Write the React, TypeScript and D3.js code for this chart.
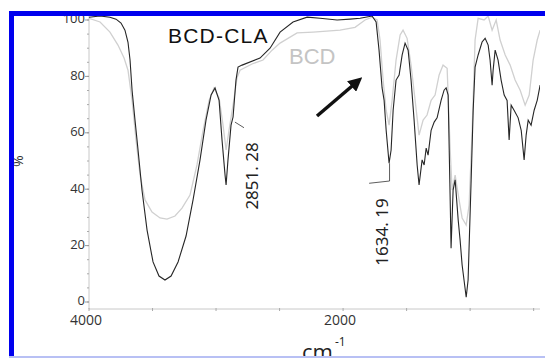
import React from 'react';
import * as d3 from 'd3';

// BCD-CLA spectrum, [wavenumber (cm-1), %T]
const bcdClaSpectrum: [number, number][] = [
  [4000, 101.0], [3913, 101.4], [3835, 101.0], [3787, 100.3], [3748, 98.9], [3717, 96.4],
  [3693, 92.1], [3677, 85.8], [3661, 75.1], [3638, 64.5], [3614, 53.9], [3583, 39.7],
  [3543, 25.5], [3496, 14.2], [3449, 9.2], [3402, 7.8], [3354, 9.2], [3299, 14.2],
  [3236, 23.4], [3181, 36.2], [3126, 50.4], [3079, 64.5], [3039, 73.4], [3008, 75.9],
  [2976, 71.5], [2953, 57.5], [2929, 45.0], [2921, 41.5], [2906, 50.4], [2882, 62.7],
  [2866, 65.6], [2843, 78.7], [2827, 83.3], [2795, 84.0], [2654, 86.5], [2575, 90.0],
  [2496, 95.7], [2394, 99.3], [2283, 101.0], [2181, 100.6], [2047, 100.0], [1945, 100.3],
  [1866, 100.6], [1772, 101.4], [1740, 99.3], [1717, 89.3], [1693, 75.9], [1677, 71.5],
  [1661, 60.9], [1638, 49.2], [1622, 53.9], [1606, 68.0], [1583, 78.7], [1559, 80.5],
  [1535, 87.6], [1512, 91.8], [1488, 89.3], [1465, 78.7], [1441, 64.5], [1417, 48.6],
  [1402, 41.5], [1378, 50.4], [1362, 48.6], [1346, 54.6], [1331, 52.1], [1307, 60.9],
  [1283, 63.8], [1260, 65.3], [1228, 71.6], [1205, 75.1], [1189, 75.9], [1173, 73.4],
  [1157, 36.2], [1150, 19.1], [1134, 39.7], [1118, 43.3], [1094, 29.1], [1079, 22.0],
  [1063, 13.1], [1031, 1.7], [1016, 7.8], [992, 43.3], [976, 68.0], [961, 83.3],
  [937, 87.6], [906, 92.2], [882, 93.5], [858, 91.1], [843, 85.8], [827, 76.9],
  [819, 82.2], [803, 89.3], [780, 85.8], [756, 78.7], [732, 73.4], [709, 71.5],
  [693, 57.5], [677, 69.8], [654, 68.0], [622, 65.3], [598, 60.9], [575, 50.4],
  [559, 59.2], [543, 64.5], [520, 62.7], [496, 68.0], [472, 71.5], [449, 76.9],
];

// BCD spectrum, [wavenumber (cm-1), %T]
const bcdSpectrum: [number, number][] = [
  [4000, 100.6], [3913, 99.3], [3835, 95.7], [3772, 91.1], [3724, 86.5], [3693, 82.2],
  [3661, 71.5], [3630, 57.5], [3598, 45.0], [3559, 36.2], [3504, 31.9], [3441, 29.8],
  [3386, 29.4], [3323, 30.5], [3268, 33.3], [3205, 37.9], [3150, 48.6], [3102, 60.9],
  [3055, 71.5], [3016, 75.9], [2976, 72.4], [2945, 62.7], [2921, 53.9], [2898, 60.9],
  [2866, 69.8], [2835, 79.5], [2811, 82.2], [2717, 84.4], [2630, 85.8], [2559, 89.3],
  [2496, 91.8], [2362, 95.4], [2236, 95.7], [2024, 96.4], [1906, 97.4], [1827, 100.0],
  [1772, 101.0], [1732, 100.0], [1709, 92.9], [1685, 78.7], [1661, 68.0], [1638, 62.7],
  [1614, 71.5], [1583, 85.8], [1551, 94.7], [1528, 96.4], [1496, 93.5], [1465, 84.0],
  [1433, 71.5], [1402, 59.2], [1370, 64.5], [1339, 66.3], [1307, 71.5], [1276, 73.4],
  [1244, 80.5], [1213, 84.0], [1181, 82.9], [1157, 53.9], [1142, 39.7], [1118, 45.0],
  [1087, 36.2], [1063, 29.8], [1031, 27.3], [1008, 34.4], [984, 60.9], [961, 92.9],
  [937, 100.6], [890, 100.0], [858, 101.4], [827, 96.4], [795, 100.0], [764, 92.9],
  [724, 87.6], [685, 84.0], [646, 78.7], [606, 75.1], [567, 69.8], [535, 73.4],
  [504, 85.8], [472, 92.9], [449, 96.4],
];

const yTickValues = [0, 20, 40, 60, 80, 100];
const xTickValues = [4000, 3500, 3000, 2500, 2000, 1500, 1000, 500];
const xTickLabels = [4000, 2000];

// peak picks: label, leader line [wavenumber, %T], label centre
const peakPicks = [
  { label: '2851. 28', leader: [[2851.28, 63.8], [2780, 61.8]] as [number, number][], at: [2709, 44.7] },
  { label: '1634. 19', leader: [[1634.19, 49.2], [1634.19, 42.9], [1795, 42.1]] as [number, number][], at: [1685, 24.8] },
];

const W = 545;
const H = 358;
const plot = { left: 89, right: 540, top: 16, bottom: 309 };

export default function App() {
  const x = d3.scaleLinear().domain([4000, 450]).range([plot.left, plot.right]);
  const y = d3.scaleLinear().domain([0, 100]).range([302, 20]);

  const line = d3.line<[number, number]>()
    .x(d => x(d[0]))
    .y(d => y(d[1]));

  const minorY = y.ticks(20);
  const tickFont = "'Open Sans', 'Noto Sans', sans-serif";

  return (
    <>
      <style>{'body{margin:0}'}</style>
      <svg width={W} height={H} style={{ display: 'block', background: '#fff' }}>
        <defs>
          <clipPath id="plotClip">
            <rect x={plot.left} y={plot.top} width={plot.right - plot.left} height={plot.bottom - plot.top} />
          </clipPath>
          <marker id="arrowHead" viewBox="0 0 10 10" refX="6" refY="5" markerWidth="4" markerHeight="4" orient="auto">
            <path d="M0,0 L10,5 L0,10 z" fill="#111" />
          </marker>
        </defs>

        {/* axes */}
        <line x1={plot.left} x2={plot.left} y1={plot.top} y2={plot.bottom} stroke="#c8c8c8" />
        <line x1={plot.left} x2={plot.right} y1={plot.bottom} y2={plot.bottom} stroke="#c8c8c8" />
        {minorY.map(v => (
          <line key={'my' + v} x1={plot.left - 2} x2={plot.left} y1={y(v)} y2={y(v)} stroke="#aaa" />
        ))}
        {yTickValues.map(v => (
          <g key={'y' + v}>
            <line x1={plot.left - 4} x2={plot.left} y1={y(v)} y2={y(v)} stroke="#999" />
            <text x={plot.left - 4} y={y(v)} textAnchor="end" dominantBaseline="middle"
              fontFamily={tickFont} fontSize={13} fill="#333">{v}</text>
          </g>
        ))}
        {xTickValues.map(v => (
          <line key={'x' + v} x1={x(v)} x2={x(v)} y1={plot.bottom - 1} y2={plot.bottom + 2} stroke="#aaa" />
        ))}
        {xTickLabels.map(v => (
          <text key={'xl' + v} x={x(v) - 3} y={plot.bottom + 16} textAnchor="middle"
            fontFamily={tickFont} fontSize={14} fill="#333">{v}</text>
        ))}

        {/* spectra */}
        <g clipPath="url(#plotClip)">
          <path d={line(bcdSpectrum) || ''} fill="none" stroke="#d0d0d0" strokeWidth={1.3} />
          <path d={line(bcdClaSpectrum) || ''} fill="none" stroke="#262626" strokeWidth={1.1} />
        </g>

        {/* peak picks */}
        {peakPicks.map(p => (
          <g key={p.label}>
            <path d={line(p.leader) || ''} fill="none" stroke="#333" strokeWidth={0.8} />
            <text transform={`translate(${x(p.at[0])},${y(p.at[1])}) rotate(-90)`} textAnchor="middle"
              dominantBaseline="middle" fontFamily="'Noto Sans', sans-serif" fontSize={17} fill="#222">{p.label}</text>
          </g>
        ))}

        {/* legend texts */}
        <text x={168} y={43} fontFamily="'Liberation Sans', Arial, sans-serif" fontSize={21} letterSpacing={1.2} fill="#111">BCD-CLA</text>
        <text x={289} y={64} fontFamily="'Liberation Sans', Arial, sans-serif" fontSize={22} fill="#c4c4c4">BCD</text>

        {/* arrow */}
        <line x1={317} y1={116} x2={358} y2={81} stroke="#111" strokeWidth={3.5} markerEnd="url(#arrowHead)" />

        {/* axis titles */}
        <text transform="translate(17,161) rotate(90)" textAnchor="middle" dominantBaseline="middle"
          fontFamily={tickFont} fontSize={14} fill="#333">%</text>
        <text x={302} y={360} fontFamily={tickFont} fontSize={22} fill="#222">cm</text>
        <text x={335} y={346} fontFamily={tickFont} fontSize={12} fill="#222">-1</text>

        {/* frame */}
        <rect x={9} y={11} width={5} height={H - 11} fill="#0000ee" />
        <rect x={9} y={11} width={W - 9} height={5} fill="#0000ee" />
        <rect x={9} y={356} width={W - 9} height={2} fill="#b8c0f4" />
      </svg>
    </>
  );
}
